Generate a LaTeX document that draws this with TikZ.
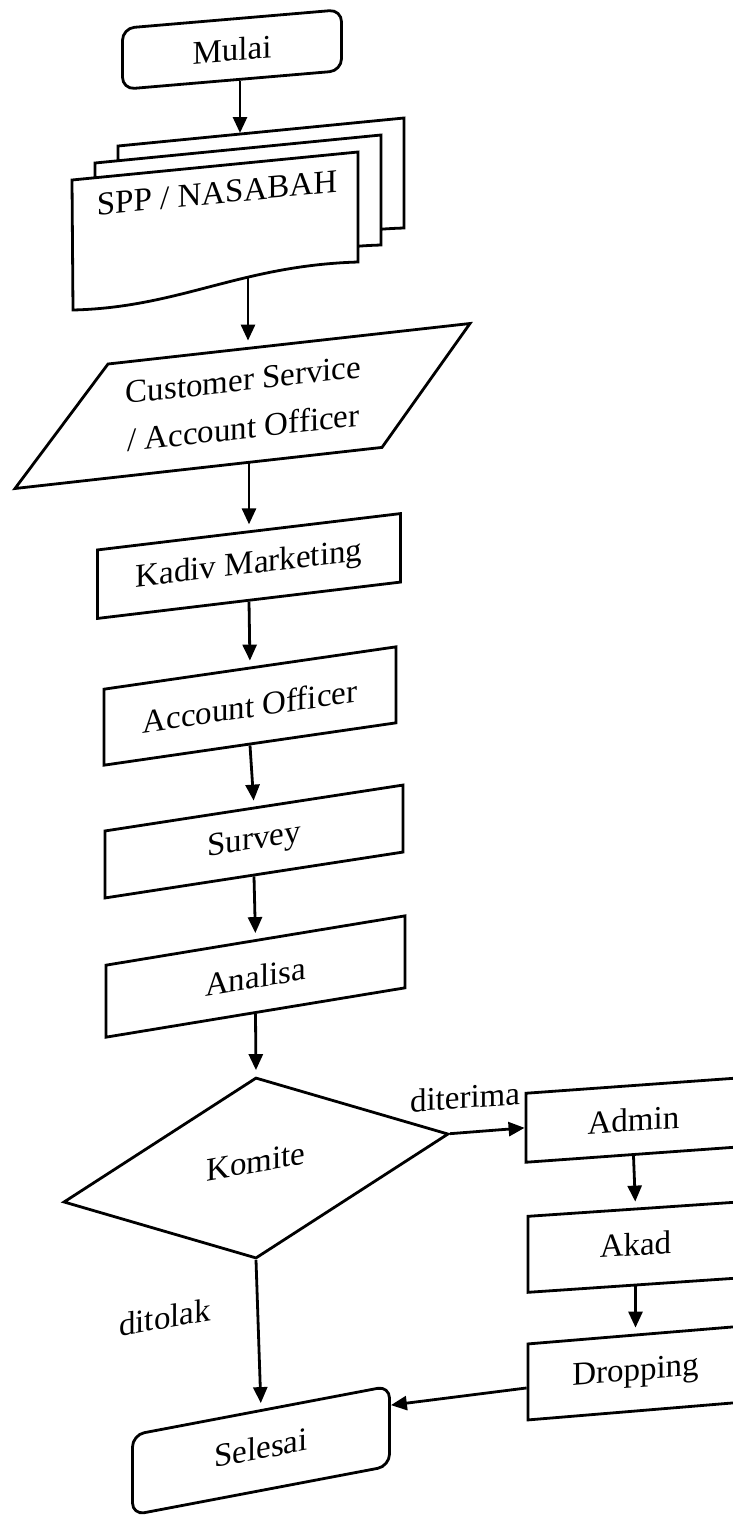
\documentclass[tikz,border=0pt]{standalone}
\usepackage{fontspec}
\setmainfont{Liberation Serif}
\usetikzlibrary{shapes.geometric,arrows.meta,calc}
\begin{document}
\begin{tikzpicture}[x=0.5pt,y=-0.5pt,
  font=\fontsize{16.5}{22}\selectfont,
  base/.style={draw=black, line width=1.4pt, fill=white, inner sep=0pt, align=center},
  procbox/.style={base, rectangle},
  termbox/.style={base, rectangle, rounded corners=6pt},
  decbox/.style={base, diamond},
  docshape/.style={draw=black, line width=1.4pt, fill=white},
  lbl/.style={inner sep=0pt, align=center},
  arr/.style={line width=1.4pt, -{Triangle[length=8pt,width=7pt]}},
  arrg/.style={arr, shorten >=3pt}]
\useasboundingbox (0,0) rectangle (733,1516);
\clip (0,0) rectangle (733,1516);

% Start
\node[termbox, yslant=0.085, minimum width=109.5pt, minimum height=30.5pt] (mulai) at (232,49.5) {Mulai};

% Multi-document SPP / NASABAH
\draw[docshape] (118,146) -- (404,118) -- (404,228) .. controls (286,231.5) and (226,273.4) .. (119,276) -- cycle;
\draw[docshape] (95,163) -- (381,135) -- (381,245) .. controls (263,248.5) and (203,290.4) .. (96,293) -- cycle;
\draw[docshape] (72,180) -- (358,152) -- (358,262) .. controls (240,265.5) and (180,307.4) .. (73,310) -- cycle;
\node[lbl, yslant=0.098] (spp) at (217,193) {SPP / NASABAH};
\coordinate (sppin) at (240,133);
\coordinate (sppout) at (248,277);

% Customer Service / Account Officer (input/output parallelogram)
\draw[docshape] (108,364) -- (470,323.5) -- (382,447.4) -- (15,488.5) -- cycle;
\node[lbl, yslant=0.112, minimum width=137pt, minimum height=57pt, font=\fontsize{16.5}{24}\selectfont] (cs) at (243.5,404) {Customer Service\\/ Account Officer};

% Process boxes
\node[procbox, yslant=0.12, minimum width=151.5pt, minimum height=34.25pt] (kadiv) at (249,566) {Kadiv Marketing};
\node[procbox, yslant=0.145, minimum width=146pt, minimum height=38pt] (ao) at (250,706) {Account Officer};
\node[procbox, yslant=0.154, minimum width=149pt, minimum height=33.5pt] (survey) at (254,841.5) {Survey};
\node[procbox, yslant=0.165, minimum width=149.5pt, minimum height=36pt] (analisa) at (255.5,976.5) {Analisa};

% Decision
\node[decbox, yslant=0.177, minimum width=192.5pt, minimum height=90.5pt] (komite) at (256,1168) {\raisebox{6.5pt}{Komite}};

% Right column
\node[procbox, yslant=0.072, minimum width=107.5pt, minimum height=34.5pt] (admin) at (633.5,1120) {Admin};
\node[procbox, yslant=0.068, minimum width=107.5pt, minimum height=38pt] (akad) at (635.5,1247) {\raisebox{3pt}{Akad}};
\node[procbox, yslant=0.083, minimum width=107.5pt, minimum height=38pt] (dropping) at (635.5,1373) {\raisebox{2pt}{Dropping}};

% End
\node[termbox, yslant=0.19, minimum width=128.5pt, minimum height=40pt] (selesai) at (261,1450.5) {\raisebox{3pt}{Selesai}};

% Labels
\node[lbl, yslant=0.07] (lblditerima) at (465,1097) {diterima};
\node[lbl, yslant=0.17] (lblditolak) at (165,1317) {ditolak};

% Connectors
\draw[arr] (mulai.south -| sppin) -- (sppin);
\draw[arrg] (sppout) -- (sppout |- cs.north);
\draw[arrg] (kadiv.north |- cs.south) -- (kadiv.north);
\draw[arrg] (kadiv.south) -- (ao.north);
\draw[arrg] (ao.south) -- (survey.north);
\draw[arrg] (survey.south) -- (analisa.north);
\draw[arrg] (analisa.south) -- (komite.north);
\draw[arr] (komite.east) -- (admin.west);
\draw[arrg] (admin.south) -- (akad.north);
\draw[arrg] (akad.south) -- (dropping.north);
\draw[arrg] (komite.south) -- (selesai.north);
\draw[arr] ($(dropping.west)!0.15!(dropping.south west)$) -- ($(selesai.east)!0.5!(selesai.north east)$);
\end{tikzpicture}
\end{document}
